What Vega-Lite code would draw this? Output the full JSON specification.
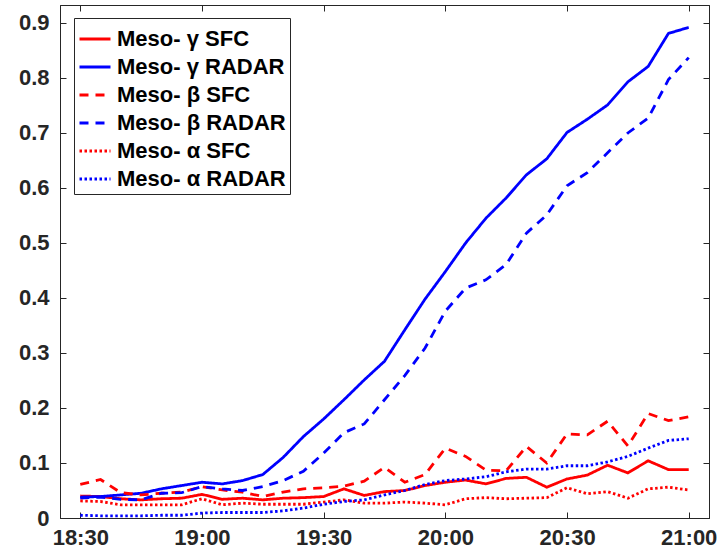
{
  "$schema": "https://vega.github.io/schema/vega-lite/v6.json",
  "width": 649,
  "height": 513,
  "autosize": "none",
  "padding": {"left": 60, "top": 5, "right": 9, "bottom": 35},
  "background": "white",
  "config": {
    "font": "Liberation Sans",
    "view": {"stroke": "#262626", "strokeWidth": 1},
    "axis": {
      "grid": false,
      "title": null,
      "labelFont": "Liberation Sans",
      "labelFontSize": 22,
      "labelFontWeight": "bold",
      "labelColor": "#262626",
      "tickColor": "#262626",
      "domainColor": "#262626",
      "tickSize": -6,
      "tickWidth": 1,
      "domainWidth": 1
    }
  },
  "data": {
    "values": [
      {"t": "2020-01-01T18:30:00", "gs": 0.040, "gr": 0.038, "bs": 0.061, "br": 0.036, "as": 0.031, "ar": 0.005},
      {"t": "2020-01-01T18:35:00", "gs": 0.039, "gr": 0.039, "bs": 0.070, "br": 0.038, "as": 0.030, "ar": 0.004},
      {"t": "2020-01-01T18:40:00", "gs": 0.035, "gr": 0.042, "bs": 0.046, "br": 0.034, "as": 0.024, "ar": 0.004},
      {"t": "2020-01-01T18:45:00", "gs": 0.033, "gr": 0.045, "bs": 0.042, "br": 0.033, "as": 0.024, "ar": 0.004},
      {"t": "2020-01-01T18:50:00", "gs": 0.035, "gr": 0.053, "bs": 0.045, "br": 0.045, "as": 0.024, "ar": 0.005},
      {"t": "2020-01-01T18:55:00", "gs": 0.036, "gr": 0.059, "bs": 0.047, "br": 0.046, "as": 0.024, "ar": 0.005},
      {"t": "2020-01-01T19:00:00", "gs": 0.043, "gr": 0.065, "bs": 0.057, "br": 0.057, "as": 0.035, "ar": 0.009},
      {"t": "2020-01-01T19:05:00", "gs": 0.034, "gr": 0.062, "bs": 0.051, "br": 0.053, "as": 0.024, "ar": 0.010},
      {"t": "2020-01-01T19:10:00", "gs": 0.036, "gr": 0.068, "bs": 0.047, "br": 0.050, "as": 0.027, "ar": 0.010},
      {"t": "2020-01-01T19:15:00", "gs": 0.033, "gr": 0.079, "bs": 0.039, "br": 0.057, "as": 0.025, "ar": 0.010},
      {"t": "2020-01-01T19:20:00", "gs": 0.036, "gr": 0.110, "bs": 0.047, "br": 0.068, "as": 0.025, "ar": 0.013},
      {"t": "2020-01-01T19:25:00", "gs": 0.037, "gr": 0.148, "bs": 0.053, "br": 0.085, "as": 0.025, "ar": 0.018},
      {"t": "2020-01-01T19:30:00", "gs": 0.039, "gr": 0.180, "bs": 0.055, "br": 0.118, "as": 0.029, "ar": 0.025},
      {"t": "2020-01-01T19:35:00", "gs": 0.053, "gr": 0.215, "bs": 0.058, "br": 0.155, "as": 0.033, "ar": 0.030},
      {"t": "2020-01-01T19:40:00", "gs": 0.041, "gr": 0.251, "bs": 0.067, "br": 0.171, "as": 0.027, "ar": 0.033},
      {"t": "2020-01-01T19:45:00", "gs": 0.048, "gr": 0.285, "bs": 0.092, "br": 0.215, "as": 0.027, "ar": 0.042},
      {"t": "2020-01-01T19:50:00", "gs": 0.050, "gr": 0.342, "bs": 0.065, "br": 0.259, "as": 0.029, "ar": 0.050},
      {"t": "2020-01-01T19:55:00", "gs": 0.059, "gr": 0.398, "bs": 0.079, "br": 0.309, "as": 0.027, "ar": 0.061},
      {"t": "2020-01-01T20:00:00", "gs": 0.065, "gr": 0.448, "bs": 0.127, "br": 0.376, "as": 0.024, "ar": 0.068},
      {"t": "2020-01-01T20:05:00", "gs": 0.069, "gr": 0.500, "bs": 0.112, "br": 0.418, "as": 0.035, "ar": 0.071},
      {"t": "2020-01-01T20:10:00", "gs": 0.062, "gr": 0.545, "bs": 0.087, "br": 0.433, "as": 0.037, "ar": 0.075},
      {"t": "2020-01-01T20:15:00", "gs": 0.072, "gr": 0.582, "bs": 0.086, "br": 0.461, "as": 0.035, "ar": 0.084},
      {"t": "2020-01-01T20:20:00", "gs": 0.074, "gr": 0.624, "bs": 0.130, "br": 0.518, "as": 0.036, "ar": 0.089},
      {"t": "2020-01-01T20:25:00", "gs": 0.056, "gr": 0.653, "bs": 0.100, "br": 0.551, "as": 0.037, "ar": 0.089},
      {"t": "2020-01-01T20:30:00", "gs": 0.071, "gr": 0.701, "bs": 0.153, "br": 0.604, "as": 0.055, "ar": 0.095},
      {"t": "2020-01-01T20:35:00", "gs": 0.078, "gr": 0.725, "bs": 0.151, "br": 0.628, "as": 0.044, "ar": 0.095},
      {"t": "2020-01-01T20:40:00", "gs": 0.096, "gr": 0.751, "bs": 0.176, "br": 0.664, "as": 0.048, "ar": 0.102},
      {"t": "2020-01-01T20:45:00", "gs": 0.082, "gr": 0.793, "bs": 0.131, "br": 0.700, "as": 0.036, "ar": 0.112},
      {"t": "2020-01-01T20:50:00", "gs": 0.104, "gr": 0.821, "bs": 0.190, "br": 0.727, "as": 0.053, "ar": 0.127},
      {"t": "2020-01-01T20:55:00", "gs": 0.088, "gr": 0.881, "bs": 0.177, "br": 0.797, "as": 0.056, "ar": 0.141},
      {"t": "2020-01-01T21:00:00", "gs": 0.088, "gr": 0.892, "bs": 0.184, "br": 0.837, "as": 0.051, "ar": 0.144}
    ]
  },
  "transform": [
    {"fold": ["gs", "gr", "bs", "br", "as", "ar"], "as": ["series", "value"]}
  ],
  "layer": [
    {
      "mark": {"type": "line", "strokeWidth": 2.8, "strokeCap": "butt", "strokeJoin": "miter"},
      "encoding": {
        "x": {
          "field": "t",
          "type": "temporal",
          "scale": {
            "domain": [
              {"year": 2020, "month": 1, "date": 1, "hours": 18, "minutes": 25},
              {"year": 2020, "month": 1, "date": 1, "hours": 21, "minutes": 5}
            ],
            "nice": false
          },
          "axis": {
            "orient": "bottom",
            "values": [
              {"year": 2020, "month": 1, "date": 1, "hours": 18, "minutes": 30},
              {"year": 2020, "month": 1, "date": 1, "hours": 19, "minutes": 0},
              {"year": 2020, "month": 1, "date": 1, "hours": 19, "minutes": 30},
              {"year": 2020, "month": 1, "date": 1, "hours": 20, "minutes": 0},
              {"year": 2020, "month": 1, "date": 1, "hours": 20, "minutes": 30},
              {"year": 2020, "month": 1, "date": 1, "hours": 21, "minutes": 0}
            ],
            "format": "%H:%M",
            "labelFlush": false,
            "labelPadding": 15
          }
        },
        "y": {
          "field": "value",
          "type": "quantitative",
          "scale": {"domain": [0, 0.9327], "nice": false, "zero": false},
          "axis": {
            "orient": "left",
            "values": [0, 0.1, 0.2, 0.3, 0.4, 0.5, 0.6, 0.7, 0.8, 0.9],
            "format": ".1~f",
            "labelPadding": 17
          }
        },
        "color": {
          "field": "series",
          "type": "nominal",
          "scale": {
            "domain": ["gs", "gr", "bs", "br", "as", "ar"],
            "range": ["#ff0000", "#0000ff", "#ff0000", "#0000ff", "#ff0000", "#0000ff"]
          },
          "legend": {
            "orient": "none",
            "legendX": 14,
            "legendY": 13,
            "title": null,
            "symbolType": "stroke",
            "symbolSize": 961,
            "symbolStrokeWidth": 2.8,
            "labelFont": "Liberation Sans",
            "labelFontSize": 22,
            "labelFontWeight": "bold",
            "labelColor": "#000000",
            "labelOffset": 5,
            "labelLimit": 400,
            "strokeColor": "#262626",
            "fillColor": "white",
            "padding": 4,
            "rowPadding": -0.6,
            "labelExpr": "datum.label == 'gs' ? 'Meso- γ SFC' : datum.label == 'gr' ? 'Meso- γ RADAR' : datum.label == 'bs' ? 'Meso- β SFC' : datum.label == 'br' ? 'Meso- β RADAR' : datum.label == 'as' ? 'Meso- α SFC' : 'Meso- α RADAR'"
          }
        },
        "strokeDash": {
          "field": "series",
          "type": "nominal",
          "scale": {
            "domain": ["gs", "gr", "bs", "br", "as", "ar"],
            "range": [[1, 0], [1, 0], [9, 7], [9, 7], [2.5, 2.5], [2.5, 2.5]]
          },
          "legend": {
            "orient": "none",
            "legendX": 14,
            "legendY": 13,
            "title": null,
            "symbolType": "stroke",
            "symbolSize": 961,
            "symbolStrokeWidth": 2.8,
            "labelFont": "Liberation Sans",
            "labelFontSize": 22,
            "labelFontWeight": "bold",
            "labelColor": "#000000",
            "labelOffset": 5,
            "labelLimit": 400,
            "strokeColor": "#262626",
            "fillColor": "white",
            "padding": 4,
            "rowPadding": -0.6,
            "labelExpr": "datum.label == 'gs' ? 'Meso- γ SFC' : datum.label == 'gr' ? 'Meso- γ RADAR' : datum.label == 'bs' ? 'Meso- β SFC' : datum.label == 'br' ? 'Meso- β RADAR' : datum.label == 'as' ? 'Meso- α SFC' : 'Meso- α RADAR'"
          }
        }
      }
    },
    {
      "mark": {"type": "point", "opacity": 0},
      "encoding": {
        "x": {
          "field": "t",
          "type": "temporal",
          "axis": {
            "orient": "top",
            "labels": false,
            "values": [
              {"year": 2020, "month": 1, "date": 1, "hours": 18, "minutes": 30},
              {"year": 2020, "month": 1, "date": 1, "hours": 19, "minutes": 0},
              {"year": 2020, "month": 1, "date": 1, "hours": 19, "minutes": 30},
              {"year": 2020, "month": 1, "date": 1, "hours": 20, "minutes": 0},
              {"year": 2020, "month": 1, "date": 1, "hours": 20, "minutes": 30},
              {"year": 2020, "month": 1, "date": 1, "hours": 21, "minutes": 0}
            ]
          }
        },
        "y": {
          "field": "value",
          "type": "quantitative",
          "axis": {
            "orient": "right",
            "labels": false,
            "values": [0, 0.1, 0.2, 0.3, 0.4, 0.5, 0.6, 0.7, 0.8, 0.9]
          }
        }
      }
    }
  ],
  "resolve": {"axis": {"x": "independent", "y": "independent"}}
}
